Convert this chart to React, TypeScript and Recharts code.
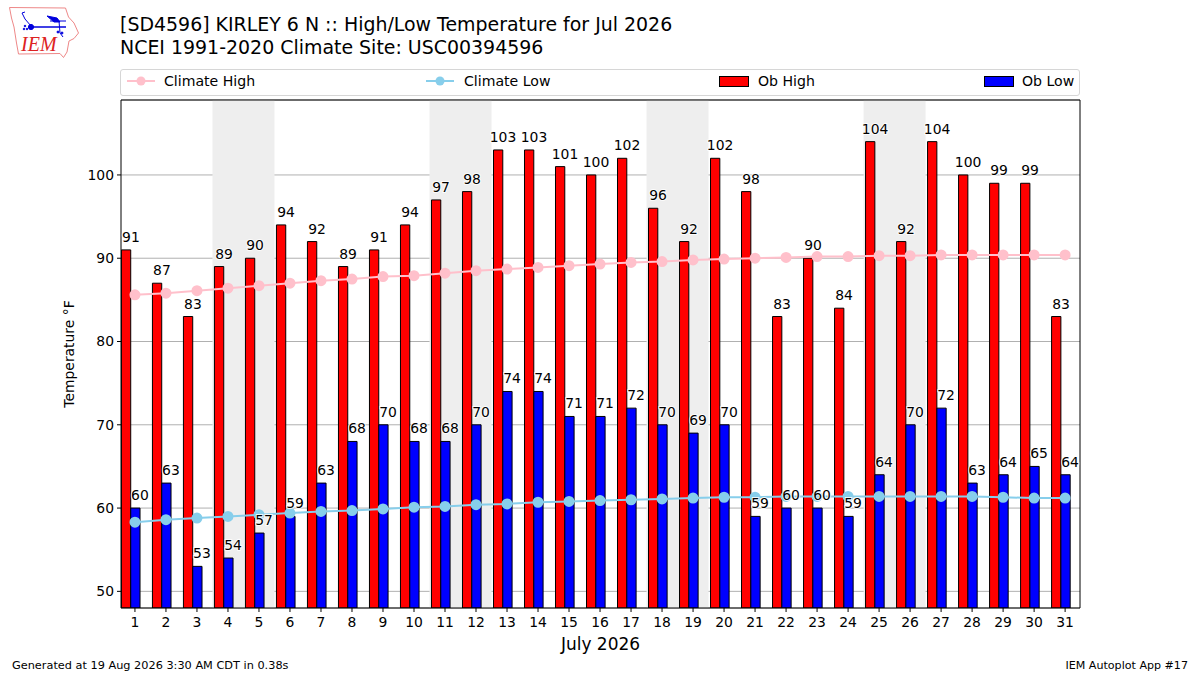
import React from "react";
import { ComposedChart, Bar, Line, XAxis, YAxis, CartesianGrid, ReferenceArea, ReferenceLine, Legend, LabelList, Label } from "recharts";

const days = [1,2,3,4,5,6,7,8,9,10,11,12,13,14,15,16,17,18,19,20,21,22,23,24,25,26,27,28,29,30,31];
const obHigh = [91,87,83,89,90,94,92,89,91,94,97,98,103,103,101,100,102,96,92,102,98,83,90,84,104,92,104,100,99,99,83];
const obLow = [60,63,53,54,57,59,63,68,70,68,68,70,74,74,71,71,72,70,69,70,59,60,60,59,64,70,72,63,64,65,64];
const climateHigh = [85.6,85.8,86.1,86.4,86.7,87.0,87.3,87.5,87.8,87.9,88.2,88.5,88.7,88.9,89.1,89.3,89.5,89.6,89.8,89.9,90.0,90.1,90.2,90.2,90.3,90.3,90.4,90.4,90.4,90.4,90.4];
const climateLow = [58.3,58.6,58.8,59.0,59.2,59.4,59.6,59.7,59.9,60.1,60.2,60.4,60.5,60.7,60.8,60.9,61.0,61.1,61.2,61.3,61.3,61.4,61.4,61.4,61.4,61.4,61.4,61.4,61.3,61.2,61.2];
const weekendBands = [[3.5,5.5],[10.5,12.5],[17.5,19.5],[24.5,26.5]];
const yTicks = [50,60,70,80,90,100];
const titleLines = ["[SD4596] KIRLEY 6 N :: High/Low Temperature for Jul 2026", "NCEI 1991-2020 Climate Site: USC00394596"];
const footerLeft = "Generated at 19 Aug 2026 3:30 AM CDT in 0.38s";
const footerRight = "IEM Autoplot App #17";

const data = days.map((day, i) => ({ day, obHigh: obHigh[i], obLow: obLow[i], climateHigh: climateHigh[i], climateLow: climateLow[i] }));
const FONT = "'DejaVu Sans', sans-serif";
const X_DOMAIN = [0.55, 31.48];
const BAR_SHIFT = 0.13;
const BAR_DOMAIN = [X_DOMAIN[0] + BAR_SHIFT, X_DOMAIN[1] + BAR_SHIFT];
const Y_DOMAIN = [48, 109];

const makeValueLabel = (dx: number) => (props: any) => (
  <text x={props.x + dx} y={props.y - 8} textAnchor="middle" fontFamily={FONT} fontSize={13.9} fill="#000" stroke="#fff" strokeOpacity={0.85} strokeWidth={2} paintOrder="stroke">{props.value}</text>
);

const LegendBox = () => {
  const t: React.CSSProperties = { position: "absolute", top: 2, fontFamily: FONT, fontSize: 14.1, color: "#000", whiteSpace: "nowrap", lineHeight: "18px" };
  const line = (left: number, color: string) => (
    <svg style={{ position: "absolute", left, top: 3, width: 30, height: 16 }}>
      <line x1={1} x2={29} y1={8} y2={8} stroke={color} strokeWidth={2} />
      <circle cx={15} cy={8} r={4.5} fill={color} />
    </svg>
  );
  const patch = (left: number, color: string) => (
    <div style={{ position: "absolute", left, top: 6, width: 28, height: 9, background: color, border: "1px solid #000" }} />
  );
  return (
    <div style={{ position: "relative", width: 958, height: 25, border: "1px solid #d6d6d6", borderRadius: 3, background: "#fff" }}>
      {line(5, "pink")}<span style={{ ...t, left: 43 }}>Climate High</span>
      {line(304, "skyblue")}<span style={{ ...t, left: 343 }}>Climate Low</span>
      {patch(598, "red")}<span style={{ ...t, left: 637 }}>Ob High</span>
      {patch(863, "blue")}<span style={{ ...t, left: 901 }}>Ob Low</span>
    </div>
  );
};

const Logo = () => (
  <svg style={{ position: "absolute", left: 0, top: 0 }} width={90} height={62}>
    <path d="M9.5 7.5 L65.5 8 L68.5 17 L74 23 L78.5 33 L74 38.5 L69 41 L67 52 L63.5 57.5 L60 53.5 L18.5 54 L16.5 43 L14 27 L11.5 18 Z" fill="#fff" stroke="#e88" strokeWidth={1} />
    <g stroke="#00d" fill="#00d">
      <line x1={31} y1={27} x2={66} y2={27} strokeWidth={1.5} />
      <circle cx={31} cy={27} r={2.6} />
      <path d="M22 13 L25 19 L31 26 M22 13 L25 12" fill="none" strokeWidth={1} />
      <path d="M47 16 L57 18 L60 22 L54 22 Z" />
      <line x1={50} y1={21} x2={66} y2={21} strokeWidth={1} />
      <path d="M59 21 L60 33 L63 37" fill="none" strokeWidth={1} />
      <circle cx={24} cy={29} r={0.8} /><circle cx={27} cy={29} r={0.8} /><circle cx={25} cy={26} r={0.8} />
      <circle cx={62} cy={33} r={1} /><circle cx={58} cy={32} r={1} />
    </g>
    <text x={21} y={51} fontFamily="'Liberation Serif', serif" fontStyle="italic" fontSize={20} fill="#d22">IEM</text>
  </svg>
);

export default function App() {
  return (
    <div style={{ position: "absolute", left: 0, top: 0, width: 1200, height: 675, background: "#fff", overflow: "hidden" }}>
      <Logo />
      <div style={{ position: "absolute", left: 120, top: 13, fontFamily: FONT, fontSize: 18.95, lineHeight: "23px", color: "#000", whiteSpace: "nowrap" }}>
        {titleLines.map((l) => <div key={l}>{l}</div>)}
      </div>
      <ComposedChart width={1200} height={675} data={data} margin={{ top: 73, right: 120, bottom: 0, left: 61 }} barGap={0}>
        <Legend content={<LegendBox />} verticalAlign="top" height={0} wrapperStyle={{ top: 69, left: 120, width: 960 }} />
        {weekendBands.map(([a, b]) => (
          <ReferenceArea key={a} x1={a} x2={b} y1={Y_DOMAIN[0]} y2={Y_DOMAIN[1]} fill="#eeeeee" fillOpacity={1} stroke="none" />
        ))}
        <CartesianGrid horizontal vertical={false} stroke="#b0b0b0" strokeWidth={1} />
        <XAxis dataKey="day" type="number" domain={X_DOMAIN} allowDataOverflow ticks={days} interval={0} height={67} tick={{ fontFamily: FONT, fontSize: 13.9, fill: "#000" }} tickLine={{ stroke: "#000" }} axisLine={{ stroke: "#000" }} tickSize={4} tickMargin={5}>
          <Label value="July 2026" position="insideTop" offset={30} fontFamily={FONT} fontSize={17} fill="#000" />
        </XAxis>
        <XAxis xAxisId="bars" dataKey="day" type="number" domain={BAR_DOMAIN} allowDataOverflow hide />
        <YAxis type="number" domain={Y_DOMAIN} allowDataOverflow ticks={yTicks} interval={0} width={60} tick={{ fontFamily: FONT, fontSize: 13.9, fill: "#000" }} tickLine={{ stroke: "#000" }} axisLine={{ stroke: "#000" }} tickSize={4} tickMargin={3}>
          <Label value="Temperature °F" angle={-90} position="insideLeft" offset={8} style={{ textAnchor: "middle" }} fontFamily={FONT} fontSize={13.9} fill="#000" />
        </YAxis>
        <ReferenceLine x={X_DOMAIN[1]} stroke="#000" />
        <ReferenceLine y={Y_DOMAIN[1]} stroke="#000" />
        <Bar xAxisId="bars" dataKey="obHigh" fill="red" stroke="#000" strokeWidth={1} barSize={9.3} isAnimationActive={false} />
        <Bar xAxisId="bars" dataKey="obLow" fill="blue" stroke="#000" strokeWidth={1} barSize={9.3} isAnimationActive={false} />
        <Line dataKey="climateHigh" stroke="pink" strokeWidth={2} dot={{ r: 4.5, fill: "pink", stroke: "pink" }} isAnimationActive={false} />
        <Line dataKey="climateLow" stroke="skyblue" strokeWidth={2} dot={{ r: 4.5, fill: "skyblue", stroke: "skyblue" }} isAnimationActive={false} />
        <Line dataKey="obHigh" stroke="none" dot={false} isAnimationActive={false}>
          <LabelList dataKey="obHigh" content={makeValueLabel(-4)} />
        </Line>
        <Line dataKey="obLow" stroke="none" dot={false} isAnimationActive={false}>
          <LabelList dataKey="obLow" content={makeValueLabel(5)} />
        </Line>
      </ComposedChart>
      <div style={{ position: "absolute", left: 12, top: 659, fontFamily: FONT, fontSize: 11.3, color: "#000", whiteSpace: "nowrap" }}>{footerLeft}</div>
      <div style={{ position: "absolute", right: 12, top: 659, fontFamily: FONT, fontSize: 11.1, color: "#000", whiteSpace: "nowrap" }}>{footerRight}</div>
    </div>
  );
}
